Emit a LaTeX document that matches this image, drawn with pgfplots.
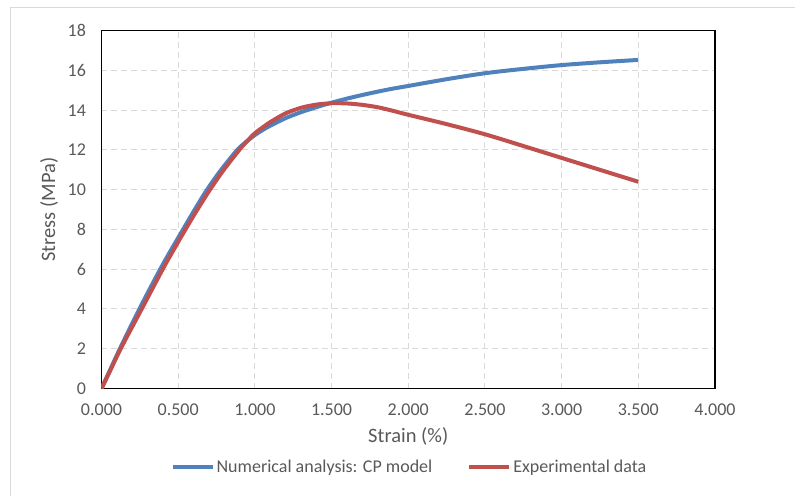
\documentclass[border=0pt]{standalone}
\usepackage{fontspec}
\setmainfont{Carlito}
\usepackage{pgfplots}
\pgfplotsset{compat=1.18}

\definecolor{cpblue}{HTML}{4F81BD}
\definecolor{expred}{HTML}{C0504D}
\definecolor{ticktext}{HTML}{595959}
\definecolor{gridgray}{HTML}{D9D9D9}

\newcommand{\chartfont}{\fontsize{18bp}{21bp}\selectfont}
\newcommand{\titlefont}{\fontsize{20.5bp}{24bp}\selectfont}

\begin{document}
\begin{tikzpicture}[font=\chartfont]
\useasboundingbox (-101.5bp,-107.5bp) rectangle (693.5bp,388.5bp);
% chart frame
\draw[gridgray, line width=1bp] (-91bp,-120bp) -- (-91bp,380.5bp) -- (720bp,380.5bp);
\begin{axis}[
  scale only axis,
  width=613.5bp, height=357.8bp,
  xmin=0, xmax=4, ymin=0, ymax=18,
  xtick={0,0.5,...,4}, ytick={0,2,...,18},
  major tick length=0pt,
  tick label style={text=ticktext, font=\chartfont},
  xticklabel style={yshift=-12bp},
  yticklabel style={xshift=-12bp},
  /pgf/number format/assume math mode=true,
  xticklabel={\pgfmathprintnumber[fixed,fixed zerofill,precision=3]{\tick}},
  grid=major,
  major grid style={gridgray, line width=1bp, dash pattern=on 6bp off 4bp},
  axis line style={black, line width=1.3bp},
  xlabel={Strain (\%)}, ylabel={Stress (MPa)},
  label style={text=ticktext, font=\titlefont},
  xlabel style={yshift=-5bp},
  ylabel style={yshift=3bp},
  legend columns=2,
  legend style={at={(0.502,-0.2194)}, anchor=center, draw=none, fill=none,
    text=ticktext, font=\chartfont,
    /tikz/every even column/.append style={column sep=33bp},
    nodes={inner xsep=2bp, inner ysep=0bp}},
  legend image code/.code={\draw[#1] (0bp,0bp) -- (40bp,0bp);},
]
\addplot[cpblue, line width=4bp, smooth] coordinates {
  (0,0) (0.06,1.0) (0.12,2) (0.247,4) (0.383,6) (0.456,7) (0.532,8)
  (0.608,9) (0.688,10) (0.78,11) (0.885,12) (0.95,12.45) (1.0,12.75)
  (1.05,13.0) (1.1,13.22) (1.2,13.6) (1.3,13.9) (1.4,14.15) (1.5,14.38)
  (1.625,14.63) (1.75,14.85) (1.875,15.05) (2.0,15.22) (2.25,15.56)
  (2.5,15.86) (2.75,16.08) (3.0,16.27) (3.25,16.41) (3.5,16.53)
};
\addlegendentry{Numerical analysis: CP model}
\addplot[expred, line width=4bp, smooth] coordinates {
  (0,0) (0.06,0.95) (0.125,2) (0.262,4) (0.399,6) (0.472,7) (0.547,8)
  (0.625,9) (0.707,10) (0.797,11) (0.898,12) (0.95,12.45) (1.0,12.84)
  (1.05,13.13) (1.1,13.4) (1.2,13.84) (1.3,14.12) (1.4,14.28) (1.5,14.35)
  (1.6,14.34) (1.7,14.27) (1.8,14.15) (1.9,13.97) (2.0,13.77)
  (2.25,13.3) (2.5,12.79) (2.75,12.2) (3.0,11.6) (3.25,11.0) (3.5,10.4)
};
\addlegendentry{Experimental data}
\end{axis}
\end{tikzpicture}
\end{document}
